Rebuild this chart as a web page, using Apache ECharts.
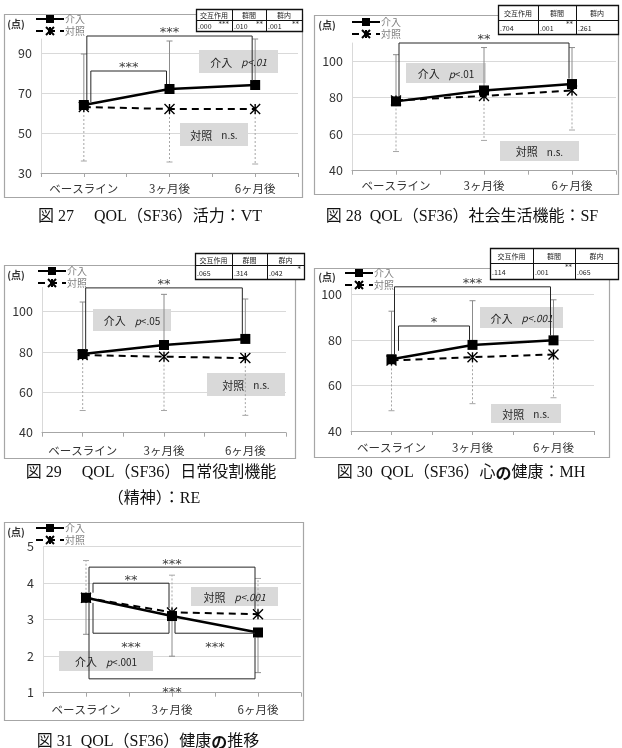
<!DOCTYPE html>
<html>
<head>
<meta charset="utf-8">
<script src="https://cdn.jsdelivr.net/npm/echarts@6/dist/echarts.min.js"></script>
<style>
html, body { margin: 0; padding: 0; background: #fff; }
#chart { width: 622px; height: 748px; }
</style>
</head>
<body>
<div id="chart"></div>
<script>
var categories = ['ベースライン', '3ヶ月後', '6ヶ月後'];
var seriesNames = ['介入', '対照'];
var tableHeaders = ['交互作用', '群間', '群内'];

// 図27 活力：VT
var vtIntv = [64, 72, 74];
var vtCtrl = [63, 62, 62];
var vtIntvErr = [89.5, 96, 97];
var vtCtrlErr = [36, 35.5, 34.5];
var vtTicks = [30, 50, 70, 90];
var vtTableP = ['.000', '.010', '.001'];
var vtTableSig = ['***', '**', '**'];
// [from, to, left leg end, right leg end, bar, stars]
var vtBrackets = [[0, 2, 66.5, 76, 98.5, '***'], [0, 1, 65.5, 74.5, 81, '***']];

// 図28 社会生活機能：SF
var sfIntv = [78, 84, 87.5];
var sfCtrl = [78.5, 81, 84];
var sfIntvErr = [103.6, 107.5, 107.5];
var sfCtrlErr = [50.5, 56.6, 62.3];
var sfTicks = [40, 60, 80, 100];
var sfTableP = ['.704', '.001', '.261'];
var sfTableSig = ['', '**', ''];
var sfBrackets = [[0, 2, 80.5, 90.5, 110, '**']];

// 図29 日常役割機能（精神）：RE
var reIntv = [79, 83.5, 86.5];
var reCtrl = [78.5, 77.7, 77];
var reIntvErr = [104.8, 108.6, 106.3];
var reCtrlErr = [51, 51, 48.6];
var reTicks = [40, 60, 80, 100];
var reTableP = ['.065', '.314', '.042'];
var reTableSig = ['', '', '*'];
var reBrackets = [[0, 2, 81, 89, 111.8, '**']];

// 図30 心の健康：MH
var mhIntv = [71.5, 77.8, 79.8];
var mhCtrl = [71, 72.4, 73.6];
var mhIntvErr = [92.6, 97.2, 97.6];
var mhCtrlErr = [48.9, 52, 54.6];
var mhTicks = [40, 60, 80, 100];
var mhTableP = ['.114', '.001', '.065'];
var mhTableSig = ['', '**', ''];
var mhBrackets = [[0, 2, 73.5, 82, 103.3, '***'], [0, 1, 75.2, 80, 86.1, '*']];

// 図31 健康の推移
var ghIntv = [3.6, 3.1, 2.65];
var ghCtrl = [3.6, 3.2, 3.15];
var ghIntvErr = [2.6, 2.0, 1.55];
var ghCtrlErr = [4.62, 4.22, 4.13];
var ghTicks = [1, 2, 3, 4, 5];
var ghBrackets = [
  [0, 2, 3.74, 3.27, 4.44, '***'],
  [0, 1, 3.74, 3.32, 4.0, '**'],
  [0, 1, 3.46, 2.96, 2.63, '***'],
  [1, 2, 2.96, 2.63, 2.63, '***'],
  [0, 2, 3.46, 2.51, 1.38, '***']
];

var FONT = '"Noto Sans CJK JP", "Noto Sans", sans-serif';
var TITLE_FONT = '"Liberation Serif", "Noto Sans CJK JP", serif';
var STAR_PATH = 'path://M0,0L10,10M10,0L0,10M5,0L5,10';

var panels = [
  { intv: vtIntv, ctrl: vtCtrl, intvErr: vtIntvErr, ctrlErr: vtCtrlErr, ticks: vtTicks, yMax: 97, brackets: vtBrackets,
    grid: { left: 41, top: 39, width: 257, height: 134 }, labelMargin: 10, legend: { left: 35, top: 14 }, showTop: false },
  { intv: sfIntv, ctrl: sfCtrl, intvErr: sfIntvErr, ctrlErr: sfCtrlErr, ticks: sfTicks, yMax: 110, brackets: sfBrackets,
    grid: { left: 352, top: 43, width: 264, height: 127.7 }, labelMargin: 9, legend: { left: 351, top: 17 }, showTop: false },
  { intv: reIntv, ctrl: reCtrl, intvErr: reIntvErr, ctrlErr: reCtrlErr, ticks: reTicks, yMax: 112, brackets: reBrackets,
    grid: { left: 42, top: 287.5, width: 244, height: 145.2 }, labelMargin: 12, legend: { left: 37, top: 266 }, showTop: false },
  { intv: mhIntv, ctrl: mhCtrl, intvErr: mhIntvErr, ctrlErr: mhCtrlErr, ticks: mhTicks, yMax: 103, brackets: mhBrackets,
    grid: { left: 351, top: 287.5, width: 243, height: 143.5 }, labelMargin: 11, legend: { left: 344, top: 268 }, showTop: false },
  { intv: ghIntv, ctrl: ghCtrl, intvErr: ghIntvErr, ctrlErr: ghCtrlErr, ticks: ghTicks, yMax: 5, brackets: ghBrackets,
    grid: { left: 43, top: 546.7, width: 258, height: 146 }, labelMargin: 11, legend: { left: 35, top: 523 }, showTop: true }
];

function pairs(arr) {
  return arr.map(function (v, i) { return [i, v]; });
}

function errorSeries(idx, means, ends, dotted) {
  return {
    type: 'custom', xAxisIndex: idx, yAxisIndex: idx, z: 1, silent: true, clip: false,
    data: means.map(function (m, i) { return [i, m, ends[i]]; }),
    encode: { x: 0, y: [1, 2] },
    renderItem: function (params, api) {
      var p0 = api.coord([api.value(0), api.value(1)]);
      var p1 = api.coord([api.value(0), api.value(2)]);
      var color = dotted ? '#a6a6a6' : '#8c8c8c';
      var st = { stroke: color, lineWidth: 1 };
      if (dotted) st.lineDash = [2, 2];
      return {
        type: 'group', children: [
          { type: 'line', shape: { x1: p0[0], y1: p0[1], x2: p1[0], y2: p1[1] }, style: st },
          { type: 'line', shape: { x1: p1[0] - 3, y1: p1[1], x2: p1[0] + 3, y2: p1[1] }, style: { stroke: color, lineWidth: 1 } }
        ]
      };
    }
  };
}

function bracketSeries(idx, brackets) {
  return {
    type: 'custom', xAxisIndex: idx, yAxisIndex: idx, z: 5, silent: true, clip: false,
    data: brackets.map(function (b) { return [b[0], b[1], b[2], b[3], b[4]]; }),
    encode: { x: [0, 1], y: [2, 3, 4] },
    renderItem: function (params, api) {
      var b = brackets[params.dataIndex];
      var up = b[4] > Math.max(b[2], b[3]);
      var nested = brackets.some(function (o) {
        return o !== b && o[0] === b[0] && o[1] > b[1] && (o[4] > Math.max(o[2], o[3])) === up;
      });
      var a = api.coord([b[0], b[2]]);
      var c = api.coord([b[1], b[3]]);
      var h = api.coord([b[0], b[4]])[1];
      var x1 = a[0] + (nested ? 7 : 3);
      var x2 = c[0] - 3;
      return {
        type: 'group', children: [
          { type: 'polyline', shape: { points: [[x1, a[1]], [x1, h], [x2, h], [x2, c[1]]] },
            style: { stroke: '#262626', lineWidth: 1, fill: 'none' } },
          { type: 'text', style: { text: b[5], x: (x1 + x2) / 2, y: up ? h - 3 : h + 14,
            align: 'center', verticalAlign: 'middle', textAlign: 'center', textVerticalAlign: 'middle',
            fill: '#404040', font: '13px "DejaVu Sans"' } }
        ]
      };
    }
  };
}

var grids = [], xAxes = [], yAxes = [], series = [], legends = [];
panels.forEach(function (p, i) {
  grids.push({ left: p.grid.left, top: p.grid.top, width: p.grid.width, height: p.grid.height, outerBoundsMode: 'none' });
  xAxes.push({
    gridIndex: i, type: 'value', min: -0.5, max: 2.5, interval: 0.5,
    axisLine: { onZero: false, lineStyle: { color: '#a6a6a6' } },
    axisTick: { show: true, length: 4, lineStyle: { color: '#a6a6a6' } },
    splitLine: { show: false },
    axisLabel: {
      margin: p.labelMargin, color: '#333', fontSize: 11.5, fontFamily: FONT,
      formatter: function (v) { return Math.abs(v - Math.round(v)) < 1e-6 ? (categories[Math.round(v)] || '') : ''; }
    }
  });
  yAxes.push({
    gridIndex: i, type: 'value', min: p.ticks[0], max: p.yMax, interval: p.ticks[1] - p.ticks[0],
    axisLine: { show: true, onZero: false, lineStyle: { color: '#d9d9d9' } },
    axisTick: { show: false },
    splitLine: { show: true, lineStyle: { color: '#d9d9d9' }, showMaxLine: p.showTop },
    axisLabel: { showMaxLabel: p.showTop, margin: 9, color: '#333', fontSize: 12.5, fontFamily: FONT }
  });
  series.push(errorSeries(i, p.intv, p.intvErr, false));
  series.push(errorSeries(i, p.ctrl, p.ctrlErr, true));
  series.push({
    name: seriesNames[1], type: 'line', xAxisIndex: i, yAxisIndex: i, z: 3,
    data: pairs(p.ctrl), symbol: STAR_PATH, symbolSize: 10,
    lineStyle: { color: '#000', width: 2, type: [7, 5] },
    itemStyle: { color: '#000', borderColor: '#000', borderWidth: 1.4 }
  });
  series.push({
    name: seriesNames[0], type: 'line', xAxisIndex: i, yAxisIndex: i, z: 4,
    data: pairs(p.intv), symbol: 'rect', symbolSize: 10,
    lineStyle: { color: '#000', width: 2.5 },
    itemStyle: { color: '#000' }
  });
  series.push(bracketSeries(i, p.brackets));
  legends.push({
    left: p.legend.left, top: p.legend.top, orient: 'vertical', padding: 0, itemGap: 2,
    itemWidth: 28, itemHeight: 10, selectedMode: false, data: seriesNames,
    textStyle: { color: '#808080', fontSize: 10, fontFamily: FONT, padding: [0, 0, 0, -4] }
  });
});

function frame(x, y, w, h) {
  return { type: 'rect', z: 0, shape: { x: x + 0.5, y: y + 0.5, width: w, height: h },
    style: { fill: 'none', stroke: '#a6a6a6', lineWidth: 1.2 } };
}

function plainText(x, y, text, font, color, extra) {
  var st = { text: text, x: x, y: y, font: font, fill: color || '#111',
    align: 'center', verticalAlign: 'middle', textAlign: 'center', textVerticalAlign: 'middle' };
  if (extra) st.rich = extra;
  return { type: 'text', z: 10, style: st };
}

function title(x, y, before, bold, after) {
  var rich = {
    n: { font: '16px ' + TITLE_FONT, fill: '#111' },
    b: { font: 'bold 16px "Noto Sans CJK JP"', fill: '#111' }
  };
  var txt = '{n|' + before + '}' + (bold ? '{b|' + bold + '}{n|' + after + '}' : '');
  return plainText(x, y, txt, '16px ' + TITLE_FONT, '#111', rich);
}

function noteBox(x, y, w, h, label, stat, italicAll) {
  var rich = {
    a: { fontSize: 11, fontFamily: FONT, fill: '#262626' },
    i: { fontSize: 10, fontFamily: FONT, fontStyle: 'italic', fill: '#262626' },
    r: { fontSize: 10, fontFamily: FONT, fill: '#262626' }
  };
  var statTxt;
  if (stat.charAt(0) === 'p' && !italicAll) statTxt = '{i|p}{r|' + stat.slice(1) + '}';
  else if (stat.charAt(0) === 'p') statTxt = '{i|' + stat + '}';
  else statTxt = '{r|' + stat + '}';
  return {
    type: 'group', z: 8, children: [
      { type: 'rect', shape: { x: x, y: y, width: w, height: h }, style: { fill: '#d9d9d9' } },
      plainText(x + w / 2, y + h / 2 + 1, '{a|' + label + '}{r|    }' + statTxt, '11px ' + FONT, '#262626', rich)
    ]
  };
}

function statTable(xs, y0, y1, y2, vals, sig) {
  var ch = [];
  var ln = { stroke: '#111', lineWidth: 1 };
  ch.push({ type: 'rect', shape: { x: xs[0] + 0.5, y: y0 + 0.5, width: xs[3] - xs[0], height: y2 - y0 },
    style: { fill: '#fff', stroke: '#111', lineWidth: 1.3 } });
  ch.push({ type: 'line', shape: { x1: xs[0], y1: y1 + 0.5, x2: xs[3], y2: y1 + 0.5 }, style: ln });
  for (var i = 1; i < 3; i++) {
    ch.push({ type: 'line', shape: { x1: xs[i] + 0.5, y1: y0, x2: xs[i] + 0.5, y2: y2 }, style: ln });
  }
  for (i = 0; i < 3; i++) {
    ch.push(plainText((xs[i] + xs[i + 1]) / 2, (y0 + y1) / 2 + 1, tableHeaders[i], '7px ' + FONT, '#222'));
    ch.push({ type: 'text', style: { text: vals[i], x: xs[i] + 2, y: (y1 + y2) / 2 + 1, font: '7px ' + FONT, fill: '#222',
      align: 'left', verticalAlign: 'middle', textAlign: 'left', textVerticalAlign: 'middle' } });
    if (sig[i]) {
      ch.push({ type: 'text', style: { text: sig[i], x: xs[i + 1] - 3, y: y1 + 4, font: '7px "DejaVu Sans"', fill: '#222',
        align: 'right', verticalAlign: 'middle', textAlign: 'right', textVerticalAlign: 'middle' } });
    }
  }
  return { type: 'group', z: 9, children: ch };
}

var graphics = [
  frame(4, 14, 298, 183), frame(314, 15, 304, 179), frame(4, 265, 291, 193),
  frame(314, 268, 295, 189), frame(4, 522, 299, 198),

  plainText(16, 24, '(点)', 'bold 10px ' + FONT, '#333'),
  plainText(327, 25, '(点)', 'bold 10px ' + FONT, '#333'),
  plainText(16, 275, '(点)', 'bold 10px ' + FONT, '#333'),
  plainText(327, 277, '(点)', 'bold 10px ' + FONT, '#333'),
  plainText(16, 532, '(点)', 'bold 10px ' + FONT, '#333'),

  noteBox(199, 50, 79, 23, '介入', 'p<.01', true),
  noteBox(180, 123, 68, 23, '対照', 'n.s.', false),
  noteBox(406, 63, 80, 20, '介入', 'p<.01', false),
  noteBox(500, 141, 79, 20, '対照', 'n.s.', false),
  noteBox(93, 309, 78, 22, '介入', 'p<.05', false),
  noteBox(207, 373, 78, 23, '対照', 'n.s.', false),
  noteBox(480, 307, 83, 21, '介入', 'p<.001', true),
  noteBox(491, 404, 70, 19, '対照', 'n.s.', false),
  noteBox(191, 587, 87, 19, '対照', 'p<.001', true),
  noteBox(59, 651, 94, 20, '介入', 'p<.001', false),

  statTable([196, 232, 266, 302], 9, 20, 31, vtTableP, vtTableSig),
  statTable([498, 538, 576, 618], 5, 20, 34, sfTableP, sfTableSig),
  statTable([195, 232, 267, 304], 253, 265, 279, reTableP, reTableSig),
  statTable([490, 533, 575, 618], 248, 263, 279, mhTableP, mhTableSig),

  title(150, 217, '図 27　 QOL（SF36）活力：VT'),
  title(462, 217, '図 28  QOL（SF36）社会生活機能：SF'),
  title(151, 473, '図 29　 QOL（SF36）日常役割機能'),
  title(154, 499, '（精神）：RE'),
  title(461, 473, '図 30  QOL（SF36）心', 'の', '健康：MH'),
  title(148, 742, '図 31  QOL（SF36）健康', 'の', '推移')
];

var chart = echarts.init(document.getElementById('chart'));
chart.setOption({
  animation: false,
  backgroundColor: '#fff',
  textStyle: { fontFamily: FONT },
  grid: grids,
  xAxis: xAxes,
  yAxis: yAxes,
  legend: legends,
  series: series,
  graphic: graphics
});
</script>
</body>
</html>
